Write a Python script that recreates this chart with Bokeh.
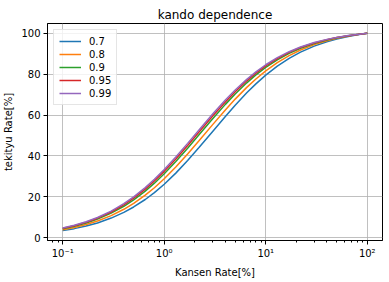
from bokeh.plotting import figure
from bokeh.models import Range1d, FixedTicker, LogTicker, CustomJSTickFormatter
from bokeh.embed import file_html
from bokeh.resources import INLINE

# Data
kansen = [0.1, 0.13, 0.17, 0.22, 0.3, 0.4, 0.5, 0.65, 0.8, 1.0, 1.3, 1.7, 2.2, 3.0,
          4.0, 5.0, 6.5, 8.0, 10.0, 13.0, 17.0, 22.0, 30.0, 40.0, 50.0, 65.0, 80.0, 100.0]
labels = ["0.7", "0.8", "0.9", "0.95", "0.99"]
tekityu_07 = [3.39, 4.36, 5.63, 7.16, 9.53, 12.32, 14.96, 18.63, 22.01, 26.12, 31.55, 37.71,
              44.05, 51.98, 59.32, 64.82, 70.87, 75.27, 79.55, 83.95, 87.76, 90.80, 93.75,
              95.89, 97.22, 98.49, 99.29, 100.0]
tekityu_08 = [3.85, 4.95, 6.38, 8.11, 10.74, 13.84, 16.74, 20.74, 24.39, 28.78, 34.51, 40.89,
              47.36, 55.30, 62.50, 67.80, 73.55, 77.67, 81.63, 85.67, 89.12, 91.86, 94.49,
              96.39, 97.56, 98.67, 99.38, 100.0]
tekityu_09 = [4.31, 5.53, 7.12, 9.03, 11.93, 15.31, 18.44, 22.75, 26.63, 31.25, 37.21, 43.76,
              50.31, 58.19, 65.22, 70.31, 75.78, 79.65, 83.33, 87.05, 90.21, 92.70, 95.07,
              96.77, 97.83, 98.82, 99.45, 100.0]
tekityu_095 = [4.54, 5.82, 7.48, 9.48, 12.51, 16.02, 19.27, 23.71, 27.70, 32.42, 38.49, 45.10,
               51.66, 59.50, 66.43, 71.43, 76.76, 80.51, 84.07, 87.65, 90.68, 93.06, 95.32,
               96.94, 97.94, 98.88, 99.48, 100.0]
tekityu_099 = [4.72, 6.05, 7.77, 9.84, 12.96, 16.58, 19.92, 24.46, 28.53, 33.33, 39.47, 46.12,
               52.69, 60.49, 67.35, 72.26, 77.48, 81.15, 84.62, 88.09, 91.02, 93.32, 95.50,
               97.06, 98.02, 98.92, 99.50, 100.0]
y_ticks = [0, 20, 40, 60, 80, 100]

series = [tekityu_07, tekityu_08, tekityu_09, tekityu_095, tekityu_099]
colors = ["#1f77b4", "#ff7f0e", "#2ca02c", "#d62728", "#9467bd"]

FONT = "DejaVu Sans"

p = figure(width=389, height=282, x_axis_type="log", output_backend="svg",
           toolbar_location=None, title="kando dependence",
           x_range=Range1d(0.0708, 141.3), y_range=Range1d(-1.45, 104.83),
           min_border_left=47, min_border_right=7, min_border_top=23, min_border_bottom=42)

for ys, c, lab in zip(series, colors, labels):
    p.line(kansen, ys, line_color=c, line_width=1.5, legend_label=lab)

p.title.align = "center"
p.title.text_font = FONT
p.title.text_font_size = "12px"
p.title.text_font_style = "normal"
p.title.text_color = "black"
p.title.standoff = 4

p.outline_line_color = "black"
p.outline_line_width = 1
p.background_fill_color = "white"
p.border_fill_color = "white"

p.xaxis.ticker = LogTicker(num_minor_ticks=10)
p.xaxis.formatter = CustomJSTickFormatter(code="""
const e = Math.round(Math.log10(tick));
const sup = {"-":"\u207b","0":"\u2070","1":"\u00b9","2":"\u00b2","3":"\u00b3","4":"\u2074","5":"\u2075","6":"\u2076","7":"\u2077","8":"\u2078","9":"\u2079"};
return "10" + String(e).split("").map(ch => sup[ch]).join("");
""")
p.yaxis.ticker = FixedTicker(ticks=y_ticks)

p.xaxis.axis_label = "Kansen Rate[%]"
p.yaxis.axis_label = "tekityu Rate[%]"

for ax in (p.xaxis, p.yaxis):
    ax.axis_label_text_font = FONT
    ax.axis_label_text_font_size = "10px"
    ax.axis_label_text_font_style = "normal"
    ax.axis_label_text_color = "black"
    ax.axis_label_standoff = 5
    ax.major_label_text_font = FONT
    ax.major_label_text_font_size = "10px"
    ax.major_label_text_color = "black"
    ax.major_label_standoff = 3
    ax.major_tick_in = 0
    ax.major_tick_out = 4
    ax.minor_tick_in = 0
    ax.axis_line_color = "black"
    ax.major_tick_line_color = "black"
    ax.minor_tick_line_color = "black"

p.xaxis.minor_tick_out = 2
p.yaxis.minor_tick_line_color = None
p.yaxis.axis_label_standoff = 4

p.grid.grid_line_color = "#b0b0b0"
p.grid.grid_line_width = 0.8
p.xgrid.minor_grid_line_color = None

lg = p.legend[0]
lg.location = "top_left"
lg.margin = 6
lg.padding = 5
lg.spacing = 1
lg.glyph_width = 22
lg.glyph_height = 12
lg.label_height = 12
lg.label_standoff = 8
lg.label_text_font = FONT
lg.label_text_font_size = "10px"
lg.label_text_color = "black"
lg.border_line_color = "#cccccc"
lg.border_line_width = 1
lg.background_fill_color = "white"
lg.background_fill_alpha = 0.8

open("out.html", "w").write(file_html(p, INLINE))
